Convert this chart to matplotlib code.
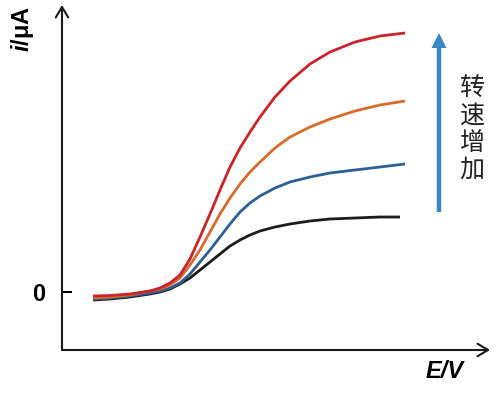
import matplotlib
matplotlib.use("Agg")
import matplotlib.pyplot as plt

plt.rcParams["font.family"] = ["Liberation Sans", "Noto Sans CJK SC", "DejaVu Sans"]
plt.rcParams["mathtext.fontset"] = "custom"
plt.rcParams["mathtext.bfit"] = "Liberation Sans:italic:bold"
plt.rcParams["mathtext.rm"] = "Liberation Sans:bold"

# potential (arbitrary units) and current (arbitrary units, 0 = baseline)
E = [0.31, 0.48, 0.68, 0.88, 0.98, 1.08, 1.18, 1.28, 1.38, 1.48, 1.58, 1.68,
     1.78, 1.88, 1.98, 2.13, 2.28, 2.48, 2.68, 2.93, 3.18, 3.43]
E_black = [0.31, 0.48, 0.68, 0.88, 0.98, 1.08, 1.18, 1.28, 1.38, 1.48, 1.58, 1.68,
           1.78, 1.88, 1.98, 2.13, 2.28, 2.48, 2.68, 2.93, 3.18, 3.38]

i_red = [-0.04, -0.035, -0.02, 0.01, 0.04, 0.09, 0.17, 0.33, 0.55, 0.78, 1.02, 1.25,
         1.44, 1.60, 1.75, 1.95, 2.11, 2.28, 2.40, 2.50, 2.56, 2.59]
i_orange = [-0.06, -0.05, -0.03, 0.01, 0.03, 0.07, 0.14, 0.27, 0.42, 0.60, 0.78, 0.94,
            1.08, 1.20, 1.30, 1.44, 1.55, 1.65, 1.73, 1.81, 1.87, 1.91]
i_blue = [-0.07, -0.06, -0.04, -0.01, 0.01, 0.04, 0.09, 0.18, 0.30, 0.42, 0.55, 0.68,
          0.80, 0.89, 0.96, 1.04, 1.10, 1.15, 1.19, 1.22, 1.25, 1.28]
i_black = [-0.08, -0.07, -0.05, -0.02, 0.00, 0.03, 0.08, 0.14, 0.22, 0.30, 0.38, 0.46,
           0.52, 0.57, 0.61, 0.65, 0.68, 0.71, 0.73, 0.74, 0.75, 0.75]

curves = [
    (E_black, i_black, "#1c1c1c"),
    (E, i_blue, "#2b5f96"),
    (E, i_orange, "#d86a2b"),
    (E, i_red, "#c8242a"),
]

fig = plt.figure(figsize=(5.03, 3.93), dpi=100)
ax = fig.add_axes([62 / 503, 43 / 393, 428 / 503, 345 / 393])
ax.set_xlim(0, 4.28)
ax.set_ylim(-0.58, 2.87)

for x, y, c in curves:
    ax.plot(x, y, color=c, lw=2.0, solid_capstyle="butt", solid_joinstyle="round")

for s in ax.spines.values():
    s.set_visible(False)

# axes drawn as arrows
arr = dict(arrowstyle="->,head_length=0.75,head_width=0.45", lw=1.5, color="#1a1a1a",
           mutation_scale=10, shrinkA=0, shrinkB=0)
ax.annotate("", xy=(1, 0), xytext=(0, 0), xycoords="axes fraction", arrowprops=arr)
ax.annotate("", xy=(0, 1), xytext=(0, 0), xycoords="axes fraction", arrowprops=arr)

ax.set_xticks([])
ax.set_yticks([0])
ax.set_yticklabels(["0"], fontsize=17, fontweight="bold")
ax.tick_params(axis="y", direction="in", length=7, width=1.5, pad=12)

fig.text(22 / 503, 1 - 29 / 393, r"$\mathbfit{i}$/μA", rotation=90, fontsize=17,
         fontweight="bold", ha="center", va="center")
fig.text(445 / 503, 1 - 371 / 393, "E/V", fontsize=17, fontweight="bold",
         fontstyle="italic", ha="center", va="center")

# speed increase arrow
ax.arrow(3.77, 0.80, 0, 1.79, width=0.045, head_width=0.15, head_length=0.15,
         length_includes_head=True, color="#3b88c6", lw=0)
ax.text(4.10, 1.63, "\n".join("转速增加"), fontsize=18, color="#222222",
        family=["Noto Sans CJK SC", "DejaVu Sans"], ha="center", va="center",
        linespacing=1.05)

fig.savefig("out.png", dpi=100)
